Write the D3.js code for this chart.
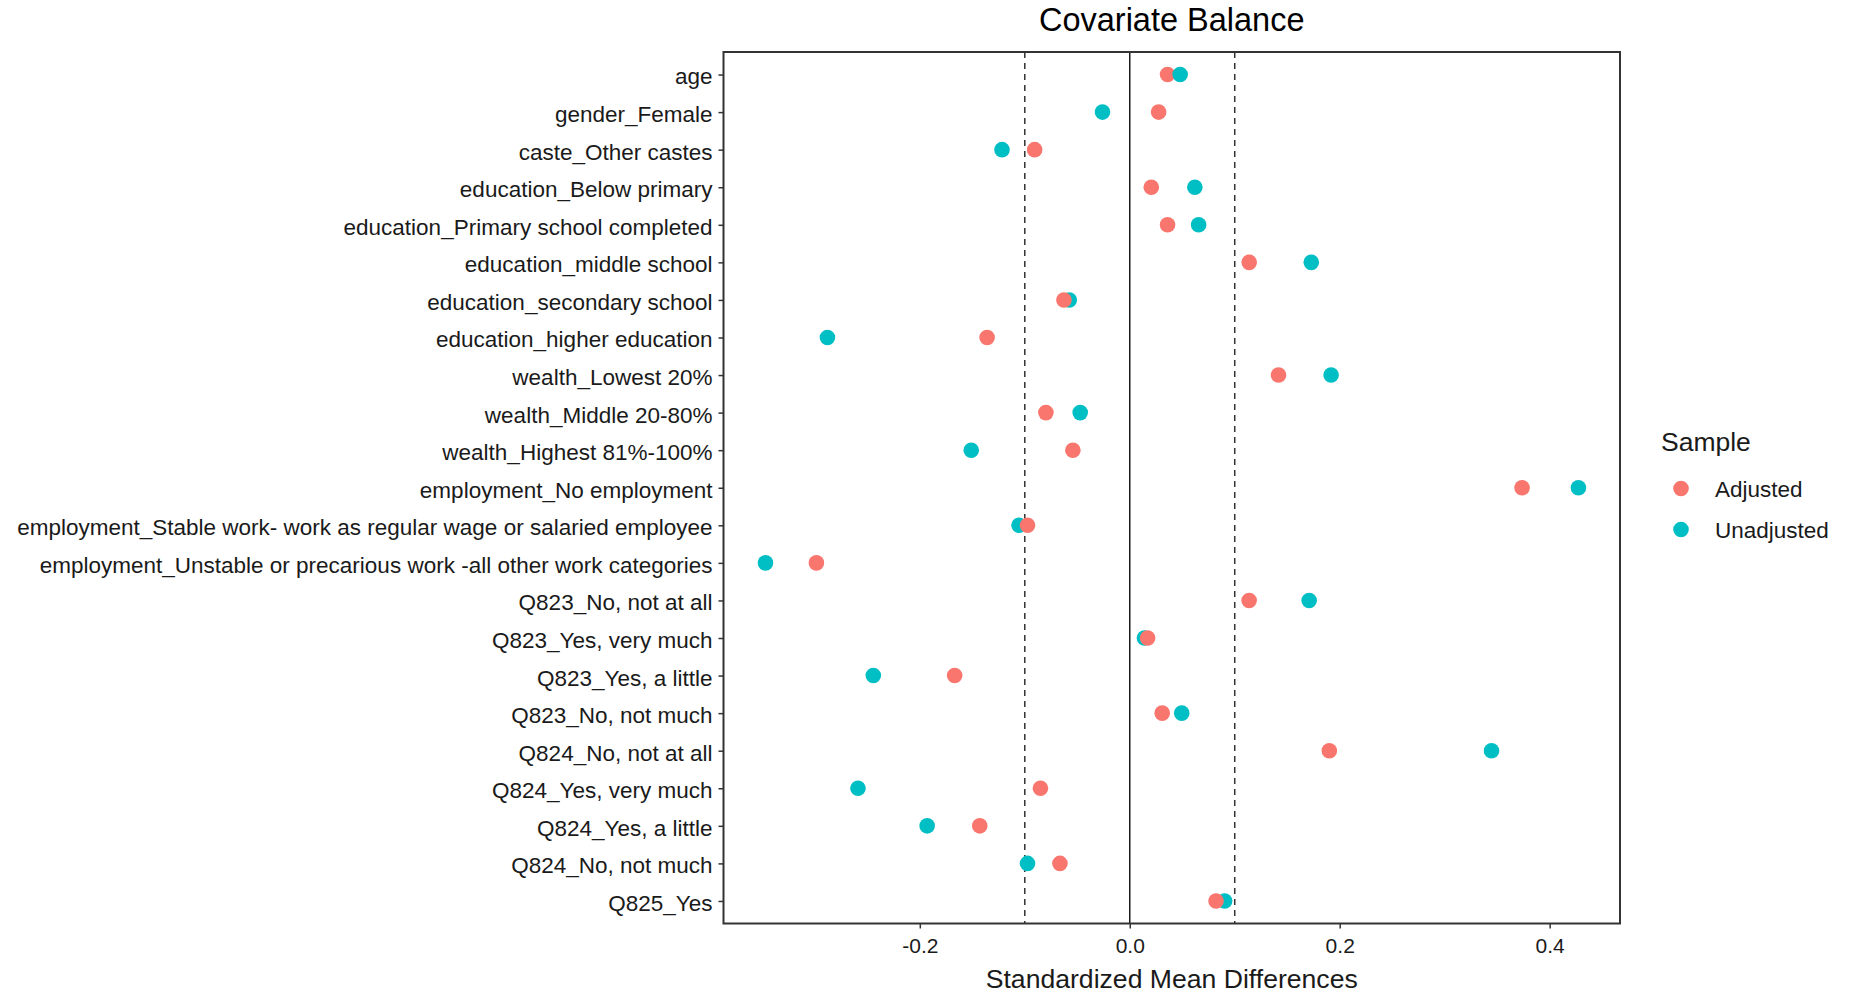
<!DOCTYPE html>
<html>
<head>
<meta charset="utf-8">
<script src="https://cdn.jsdelivr.net/npm/d3@7"></script>
<style>
  html, body { margin: 0; padding: 0; background: #ffffff; }
  svg { display: block; font-family: "Liberation Sans", Arial, sans-serif; }
</style>
</head>
<body>
<svg id="chart" width="1850" height="996"></svg>
<script>
// ---------------- data ----------------
const categories = [
  "age",
  "gender_Female",
  "caste_Other castes",
  "education_Below primary",
  "education_Primary school completed",
  "education_middle school",
  "education_secondary school",
  "education_higher education",
  "wealth_Lowest 20%",
  "wealth_Middle 20-80%",
  "wealth_Highest 81%-100%",
  "employment_No employment",
  "employment_Stable work- work as regular wage or salaried employee",
  "employment_Unstable or precarious work -all other work categories",
  "Q823_No, not at all",
  "Q823_Yes, very much",
  "Q823_Yes, a little",
  "Q823_No, not much",
  "Q824_No, not at all",
  "Q824_Yes, very much",
  "Q824_Yes, a little",
  "Q824_No, not much",
  "Q825_Yes"
];
const adjusted = [0.036, 0.0275, -0.0906, 0.0205, 0.036, 0.1138, -0.0627, -0.1359, 0.1417, -0.0799,
  -0.0542, 0.3737, -0.0974, -0.2985, 0.1137, 0.017, -0.1668, 0.0309, 0.1901, -0.0851,
  -0.1429, -0.0665, 0.0822];
const unadjusted = [0.048, -0.026, -0.1217, 0.062, 0.0656, 0.1729, -0.0576, -0.288, 0.1918, -0.0472,
  -0.151, 0.4274, -0.1055, -0.347, 0.1709, 0.014, -0.2443, 0.0495, 0.3446, -0.2589,
  -0.193, -0.0974, 0.0904];
const seriesNames = ["Adjusted", "Unadjusted"];
const thresholds = [-0.1, 0.1];
const xTicks = [-0.2, 0.0, 0.2, 0.4];
const xDomain = [-0.387, 0.467];
const unadjustedOnTop = ["age"];   // categories where the unadjusted point was drawn last

// ---------------- layout ----------------
const colors = { "Adjusted": "#F8766D", "Unadjusted": "#00BFC4" };
const panel = { left: 723.5, right: 1620, top: 52, bottom: 923.5 };
const svg = d3.select("#chart");
const FONT_YTICK = 22.5;
const FONT_XTICK = 21;

const x = d3.scaleLinear().domain(xDomain).range([panel.left, panel.right]);
const y = d3.scalePoint().domain(categories).range([panel.top, panel.bottom]).padding(0.6);

// title
svg.append("text")
  .attr("x", (panel.left + panel.right) / 2)
  .attr("y", 31)
  .attr("text-anchor", "middle")
  .attr("font-size", 32.5)
  .attr("fill", "#000")
  .text("Covariate Balance");

// reference lines
const g = svg.append("g");
g.append("line")
  .attr("x1", x(0)).attr("x2", x(0))
  .attr("y1", panel.top).attr("y2", panel.bottom)
  .attr("stroke", "#1a1a1a").attr("stroke-width", 1.5);
g.selectAll("line.thr").data(thresholds).enter().append("line")
  .attr("class", "thr")
  .attr("x1", d => x(d)).attr("x2", d => x(d))
  .attr("y1", panel.top).attr("y2", panel.bottom)
  .attr("stroke", "#333").attr("stroke-width", 1.5)
  .attr("stroke-dasharray", "6,5");

// points
const points = [];
categories.forEach((c, i) => {
  const pair = [
    { cat: c, series: "Unadjusted", value: unadjusted[i] },
    { cat: c, series: "Adjusted", value: adjusted[i] }
  ];
  if (unadjustedOnTop.includes(c)) pair.reverse();
  points.push(...pair);
});
g.selectAll("circle.pt").data(points).enter().append("circle")
  .attr("class", "pt")
  .attr("cx", d => x(d.value))
  .attr("cy", d => y(d.cat))
  .attr("r", 7.8)
  .attr("fill", d => colors[d.series]);

// panel border
svg.append("rect")
  .attr("x", panel.left).attr("y", panel.top)
  .attr("width", panel.right - panel.left).attr("height", panel.bottom - panel.top)
  .attr("fill", "none").attr("stroke", "#333").attr("stroke-width", 2);

// x axis
const xAxis = d3.axisBottom(x).tickValues(xTicks)
  .tickFormat(d => d3.format(".1f")(d).replace("\u2212", "-"))
  .tickSizeOuter(0).tickSize(5).tickPadding(10);
const xg = svg.append("g").attr("transform", `translate(0,${panel.bottom})`).call(xAxis);
xg.select(".domain").remove();
xg.selectAll(".tick line").attr("stroke", "#333").attr("stroke-width", 1.5);
xg.selectAll(".tick text").attr("font-size", FONT_XTICK).attr("fill", "#1a1a1a")
  .attr("font-family", "Liberation Sans, Arial, sans-serif");

// y axis
const yAxis = d3.axisLeft(y).tickSizeOuter(0).tickSize(5).tickPadding(6);
const yg = svg.append("g").attr("transform", `translate(${panel.left},0)`).call(yAxis);
yg.select(".domain").remove();
yg.selectAll(".tick line").attr("stroke", "#333").attr("stroke-width", 1.5);
yg.selectAll(".tick text").attr("font-size", FONT_YTICK).attr("fill", "#1a1a1a")
  .attr("dy", "0.42em")
  .attr("font-family", "Liberation Sans, Arial, sans-serif");

// x axis title
svg.append("text")
  .attr("x", (panel.left + panel.right) / 2)
  .attr("y", 988)
  .attr("text-anchor", "middle")
  .attr("font-size", 26.6)
  .attr("fill", "#1a1a1a")
  .text("Standardized Mean Differences");

// legend
const lg = svg.append("g");
lg.append("text").attr("x", 1661).attr("y", 451)
  .attr("font-size", 26.5).attr("fill", "#1a1a1a").text("Sample");
const items = lg.selectAll("g.item").data(seriesNames).enter().append("g")
  .attr("class", "item")
  .attr("transform", (d, i) => `translate(0,${488.5 + i * 41})`);
items.append("circle").attr("cx", 1681).attr("cy", 0).attr("r", 7.8)
  .attr("fill", d => colors[d]);
items.append("text").attr("x", 1715).attr("y", 8.5)
  .attr("font-size", FONT_YTICK).attr("fill", "#1a1a1a").text(d => d);
</script>
</body>
</html>
